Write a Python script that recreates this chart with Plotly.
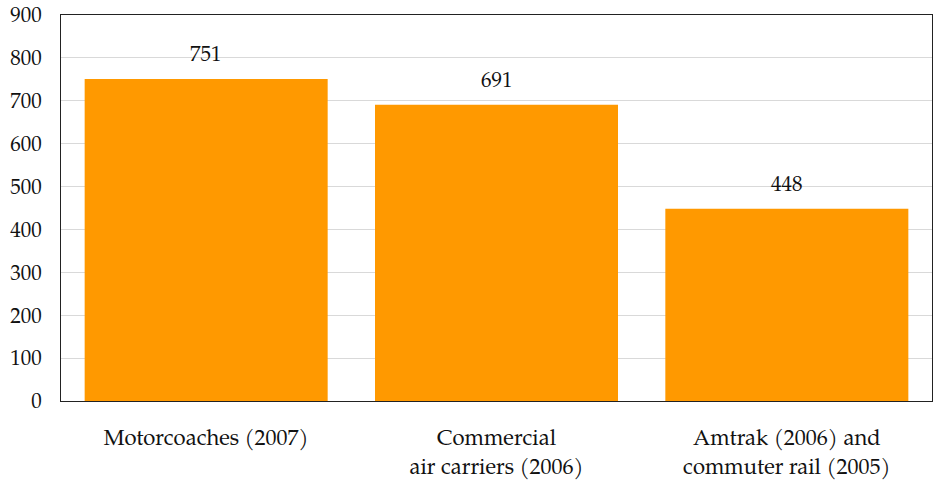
import plotly.graph_objects as go

categories = ["Motorcoaches (2007)", "Commercial<br>air carriers (2006)", "Amtrak (2006) and<br>commuter rail (2005)"]
values = [751, 691, 448]
y_ticks = [0, 100, 200, 300, 400, 500, 600, 700, 800, 900]

FONT = "TeX Gyre Pagella, Palatino Linotype, Palatino, Liberation Serif, serif"

fig = go.Figure()
fig.add_trace(go.Bar(x=categories, y=values, marker=dict(color="#FF9900", line=dict(width=0)),
                     hoverinfo="skip"))
for c, v in zip(categories, values):
    fig.add_annotation(x=c, y=v, text=str(v), showarrow=False, yanchor="bottom", yshift=10,
                       font=dict(size=21, color="#111111", family=FONT))

fig.update_layout(
    width=936, height=481,
    margin=dict(l=61, r=4, t=15, b=80, autoexpand=False),
    paper_bgcolor="white", plot_bgcolor="white",
    bargap=0.163,
    showlegend=False,
    font=dict(family=FONT, size=21, color="#111111"),
)
fig.update_xaxes(showline=True, linecolor="#222222", linewidth=1, mirror=True, automargin=False,
                 ticks="", ticklabelstandoff=17, tickfont=dict(size=22))
fig.update_yaxes(range=[0, 900], tickvals=y_ticks, showgrid=True, gridcolor="#d9d9d9", gridwidth=1,
                 showline=True, linecolor="#222222", linewidth=1, mirror=True, automargin=False,
                 ticks="", ticklabelstandoff=14, tickfont=dict(size=21), zeroline=False)

fig.write_html("out.html", config={"displayModeBar": False},
               post_script="document.body.style.margin='0';document.body.style.overflow='hidden';")
